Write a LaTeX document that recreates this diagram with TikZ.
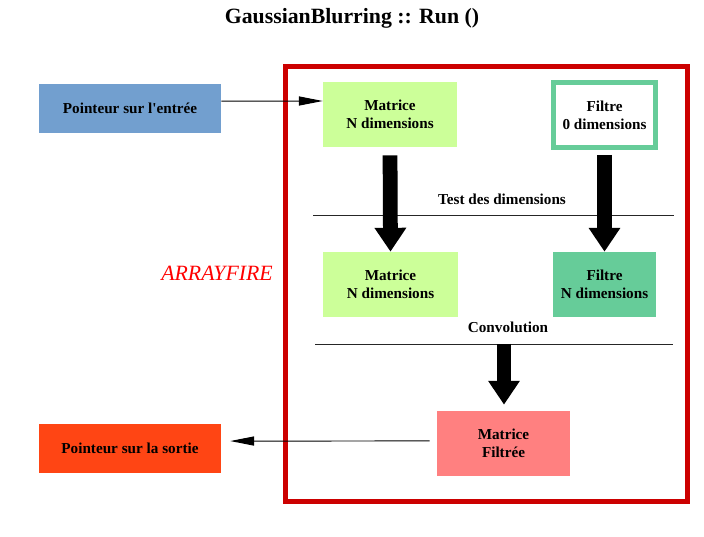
\documentclass[tikz,border=0pt]{standalone}
\usepackage{fontspec}
\setmainfont{Liberation Serif}
\usetikzlibrary{arrows.meta, positioning, calc}
\definecolor{cadre}{HTML}{CC0000}
\definecolor{bleu}{HTML}{729FCF}
\definecolor{vertclair}{HTML}{CCFF99}
\definecolor{vertfiltre}{HTML}{66CC99}
\definecolor{rose}{HTML}{FF8080}
\definecolor{sortie}{HTML}{FF4514}

\begin{document}
\begin{tikzpicture}[x=0.025cm, y=-0.025cm, >=Stealth,
  boite/.style={draw=none, align=center, inner sep=0pt, minimum height=1.625cm,
    font=\fontsize{10.8}{13}\selectfont\bfseries},
  fine/.style={line width=0.7pt, -{Triangle[length=17pt, width=6.5pt]}},
  grosse/.style={line width=10.5pt, -{Triangle[length=17pt, width=21.5pt]}},
  separation/.style={line width=0.7pt, black!85}]
  \useasboundingbox (0,0) rectangle (704,537);

  % Titre
  \node (titre) at (352,18.5) {\fontsize{15.5}{18}\selectfont\bfseries GaussianBlurring :: Run ()};

  % Cadre ArrayFire
  \draw[cadre, line width=3.5pt] (285.5,66.5) rectangle (687.5,501.5);
  \node[text=red, font=\fontsize{15.5}{17}\selectfont\itshape] (af) at (217,273) {ARRAYFIRE};

  % Pointeurs
  \node[boite, fill=bleu, minimum width=4.55cm, minimum height=1.225cm] (entree) at (130,108.5) {Pointeur sur l\textquotesingle entrée};
  \node[boite, fill=sortie, minimum width=4.55cm, minimum height=1.225cm] (sortie) at (130,448.5) {Pointeur sur la sortie};

  % Matrices et filtres
  \node[boite, fill=vertclair, minimum width=3.35cm] (mat1) at (390,114.5) {Matrice\\N dimensions};
  \node[boite, fill=white, draw=vertfiltre, line width=3.5pt, minimum width=2.55cm] (filt1) at (604.5,115) {Filtre\\0 dimensions};
  \node[boite, fill=vertclair, minimum width=3.35cm] (mat2) at (390.5,284.5) {Matrice\\N dimensions};
  \node[boite, fill=vertfiltre, minimum width=2.575cm] (filt2) at (604.5,284.5) {Filtre\\N dimensions};
  \node[boite, fill=rose, minimum width=3.325cm] (res) at (503.5,443.5) {Matrice\\Filtrée};

  % Etapes
  \draw[separation] (313,215) -- (674,215);
  \node[boite, minimum height=0pt] (test) at (502,199) {Test des dimensions};
  \draw[separation] (315,344) -- (673,344);
  \node[boite, minimum height=0pt] (conv) at (508,327) {Convolution};
  \coordinate (depart) at (504,344);

  % Fleches
  \draw[fine] ([yshift=5.3pt]entree.east) -- ([yshift=9.6pt]mat1.west);
  \draw[grosse, shorten <=5.7pt] (mat1.south) -- (mat2.north);
  \draw[grosse, shorten <=3.5pt] (filt1.south) -- (filt2.north);
  \draw[grosse, shorten >=4.3pt] (depart) -- (depart |- res.north);
  \draw[fine, shorten <=5pt, shorten >=6.4pt] ([yshift=1.8pt]res.west) -- ([yshift=5.3pt]sortie.east);
\end{tikzpicture}
\end{document}
